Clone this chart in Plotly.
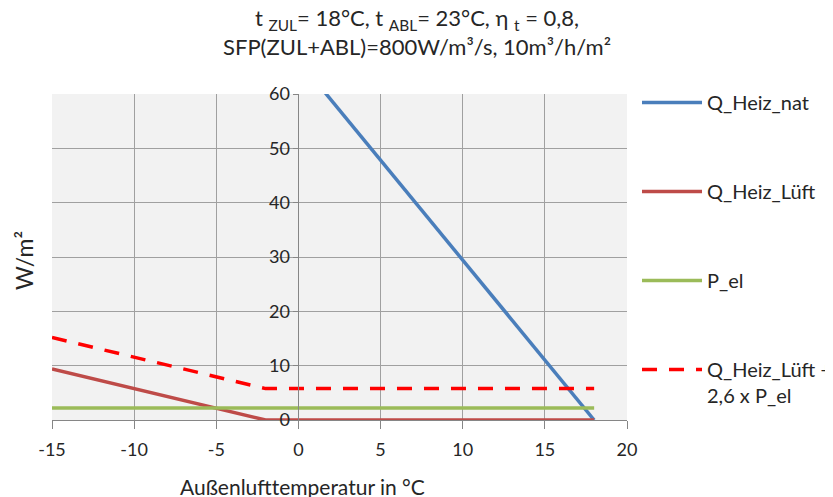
import plotly.graph_objects as go

x_temp = [-15, -10, -5, -2, 0, 5, 10, 15, 18]
q_heiz_nat = [121.4, 103.0, 84.6, 73.6, 66.2, 47.8, 29.4, 11.0, 0.0]
q_heiz_lueft = [9.4, 5.78, 2.17, 0.0, 0.0, 0.0, 0.0, 0.0, 0.0]
p_el = [2.22, 2.22, 2.22, 2.22, 2.22, 2.22, 2.22, 2.22, 2.22]
q_sum = [15.18, 11.56, 7.95, 5.78, 5.78, 5.78, 5.78, 5.78, 5.78]

x_ticks = [-15, -10, -5, 0, 5, 10, 15, 20]
x_ticktext = ["-15", "-10", "-5", "0", "5", "10", "15", "20"]
y_ticks = [0, 10, 20, 30, 40, 50, 60]

FONT = "Lato, 'Open Sans', sans-serif"
TXT = "#262626"

fig = go.Figure()
fig.add_trace(go.Scatter(x=x_temp, y=q_heiz_nat, mode="lines", name="Q_Heiz_nat",
                         line=dict(color="#4A7EBB", width=3.5), legendgroup="a"))
fig.add_trace(go.Scatter(x=x_temp, y=q_heiz_lueft, mode="lines", name="Q_Heiz_Lüft",
                         line=dict(color="#BE4B48", width=3.5), legendgroup="b"))
fig.add_trace(go.Scatter(x=x_temp, y=p_el, mode="lines", name="P_el",
                         line=dict(color="#9BBB59", width=3.5), legendgroup="c"))
fig.add_trace(go.Scatter(x=x_temp, y=q_sum, mode="lines", name="Q_Heiz_Lüft +<br>2,6 x P_el",
                         line=dict(color="#FF0000", width=3.5, dash="15px,12px"), legendgroup="d"))

fig.update_layout(
    width=825, height=489,
    margin=dict(l=44, r=206, t=86, b=77, autoexpand=False),
    paper_bgcolor="white",
    plot_bgcolor="#F2F2F2",
    font=dict(family=FONT, size=18, color=TXT),
    xaxis=dict(range=[-15, 20], tickvals=x_ticks, ticktext=x_ticktext, showgrid=True,
               gridcolor="#A0A0A0", gridwidth=1,
               zeroline=False, showline=True, linecolor="#868686", linewidth=1,
               ticks="outside", ticklen=8, tickcolor="#868686",
               tickfont=dict(size=18), ticklabelstandoff=5),
    yaxis=dict(range=[0, 60], tickvals=y_ticks, showgrid=True, gridcolor="#A0A0A0", gridwidth=1,
               zeroline=False, showline=True, linecolor="#868686", linewidth=1,
               ticks="outside", ticklen=5, tickcolor="#868686",
               tickfont=dict(size=18),
               anchor="free", position=15/35),
    legend=dict(x=1.0174, y=1.034, xanchor="left", yanchor="top", tracegroupgap=60,
                font=dict(size=20), valign="top", bgcolor="rgba(0,0,0,0)", itemwidth=60,
                maxheight=440),
    showlegend=True,
    annotations=[
        dict(text="t <sub>ZUL</sub>= 18°C, t <sub>ABL</sub>= 23°C, η <sub>t</sub> = 0,8,<br>SFP(ZUL+ABL)=800W/m³/s, 10m³/h/m²",
             xref="paper", yref="paper", x=(417 - 52) / 575, y=1, yshift=32,
             xanchor="center", yanchor="bottom", showarrow=False,
             font=dict(family=FONT, size=22, color=TXT)),
        dict(text="W/m²", xref="paper", yref="paper", x=0, xshift=-28, y=0.5, yshift=-4,
             xanchor="center", yanchor="middle", textangle=-90, showarrow=False,
             font=dict(family=FONT, size=23, color=TXT)),
        dict(text="Außenlufttemperatur in °C", xref="paper", yref="paper",
             x=(302 - 52) / 575, y=0, yshift=-66,
             xanchor="center", yanchor="middle", showarrow=False,
             font=dict(family=FONT, size=21, color=TXT)),
    ],
)

fig.write_html("out.html")
